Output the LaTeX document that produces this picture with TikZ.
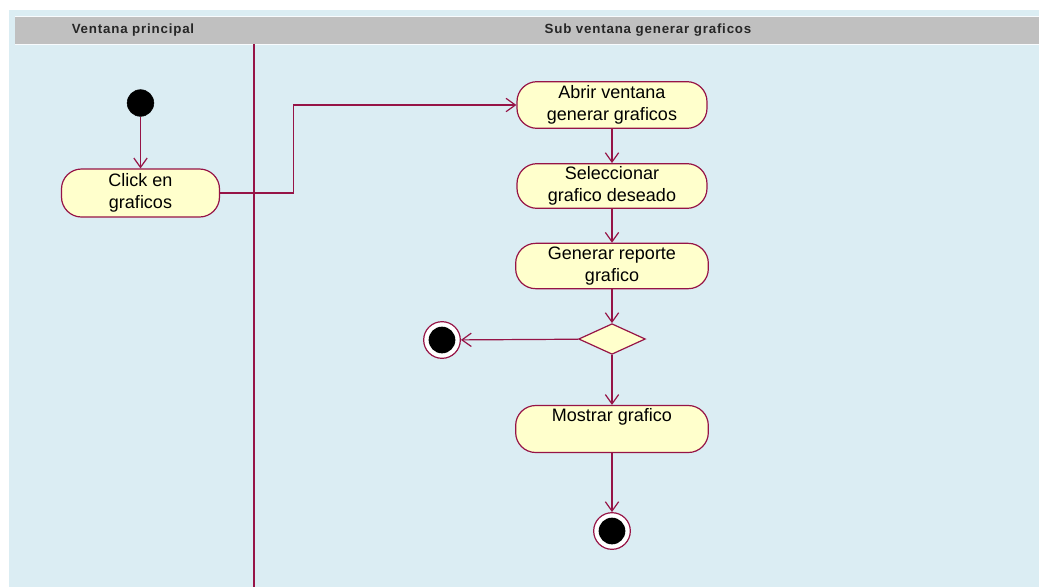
\documentclass[tikz,border=0pt]{standalone}
\usepackage{fontspec}
\setmainfont{Liberation Sans}
\usepackage{tikz}
\usetikzlibrary{arrows.meta,shapes.geometric}
\definecolor{umlline}{RGB}{150,20,70}
\definecolor{umlfill}{RGB}{255,255,204}
\definecolor{lanebg}{RGB}{219,237,243}
\definecolor{headbg}{RGB}{192,192,192}
\tikzset{
  actbox/.style={draw=umlline, fill=umlfill, rectangle, rounded corners=15pt,
    line width=0.9pt, align=center, inner sep=2pt,
    font=\fontsize{13.5}{16.5}\selectfont},
  actstart/.style={circle, fill=black, draw=black, minimum size=20pt, inner sep=0pt},
  actend/.style={circle, draw=umlline, line width=0.9pt, fill=white,
    minimum size=27.5pt, inner sep=0pt,
    path picture={\fill[black] (path picture bounding box.center) circle (10pt);}},
  actdecision/.style={diamond, draw=umlline, fill=umlfill, line width=0.9pt,
    minimum width=50pt, minimum height=23pt, inner sep=0pt},
  actarrow/.style={-{Straight Barb[length=7pt, width=10pt]}, umlline, line width=0.9pt},
  lanehead/.style={font=\fontsize{10}{12}\selectfont\bfseries\addfontfeatures{LetterSpace=6},
    text=black!85},
}

\begin{document}
\begin{tikzpicture}[x=0.75pt, y=-0.75pt]
  \useasboundingbox (0,0) rectangle (1039,587);
  % swimlanes
  \fill[lanebg] (9,10) rectangle (1039,587);
  \fill[headbg] (15,16) rectangle (1039,44);
  \draw[white!80!lanebg, line width=0.6pt] (15,16) -- (1039,16) (15,44) -- (1039,44);
  \node[lanehead] (lane1) at (133,30) {Ventana principal};
  \node[lanehead] (lane2) at (648,30) {Sub ventana generar graficos};
  \draw[umlline, line width=1.5pt] (254,44) -- (254,587);

  % actividades
  \node[actstart] (start) at (140.5,103) {};
  \node[actbox, minimum width=118.5pt, minimum height=36pt] (click) at (140.5,193) {Click en\\graficos};
  \node[actbox, minimum width=142.5pt, minimum height=35pt] (abrir) at (612,105) {Abrir ventana\\generar graficos};
  \node[actbox, minimum width=142.5pt, minimum height=33.5pt] (selec) at (612,186) {Seleccionar\\grafico deseado};
  \node[actbox, minimum width=144.5pt, minimum height=34pt] (reporte) at (612,266) {Generar reporte\\grafico};
  \node[actdecision] (dec) at (612,339) {};
  \node[actend] (endA) at (442,340) {};
  \node[actbox, minimum width=144.5pt, minimum height=34pt] (mostrar) at (612,429) {Mostrar grafico\\\strut};
  \node[actend] (endB) at (612,531) {};

  % flujos
  \draw[actarrow] (start) -- (click);
  \draw[actarrow] (click.east) -- ++(73,0) |- (abrir.west);
  \draw[actarrow] (abrir) -- (selec);
  \draw[actarrow] (selec) -- (reporte);
  \draw[actarrow] (reporte) -- (dec);
  \draw[actarrow] (dec) -- (endA);
  \draw[actarrow] (dec) -- (mostrar);
  \draw[actarrow] (mostrar) -- (endB);
\end{tikzpicture}
\end{document}
